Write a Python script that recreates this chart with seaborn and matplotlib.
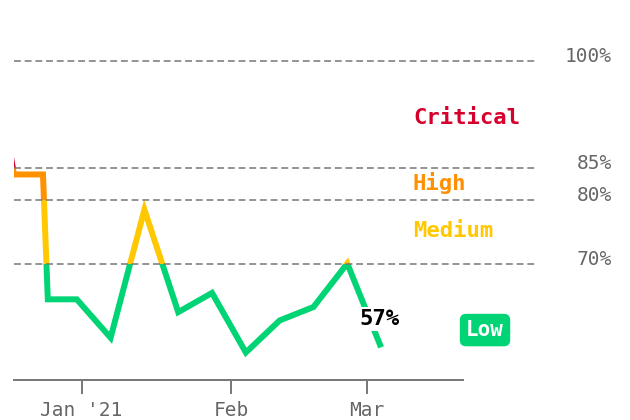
import numpy as np
import pandas as pd
import matplotlib
matplotlib.use("Agg")
import matplotlib.pyplot as plt
import matplotlib.dates as mdates
from matplotlib.patches import Rectangle
from matplotlib.transforms import blended_transform_factory, ScaledTranslation
import seaborn as sns

# weekly score readings (%)
dates = ["2020-12-17", "2020-12-18", "2020-12-24", "2020-12-25", "2020-12-31",
         "2021-01-07", "2021-01-14", "2021-01-21", "2021-01-28", "2021-02-04",
         "2021-02-11", "2021-02-18", "2021-02-25", "2021-03-04"]
values = [88, 84, 84, 64.5, 64.5, 58.5, 78.5, 62.5, 65.5, 56.2, 61.2, 63.3, 70.1, 57]

thresholds = [100, 85, 80, 70]
threshold_labels = ["100%", "85%", "80%", "70%"]

zones = ["Critical", "High", "Medium", "Low"]
zone_bounds = [(85, 200), (80, 85), (70, 80), (0, 70)]
zone_label_y = [92.0, 82.7, 75.2, 59.7]
zone_colors = ["#d6002c", "#ff9000", "#ffc800", "#00d474"]

last_label = "57%"

sns.set_style("white")
plt.rcParams["font.family"] = ["DejaVu Sans Mono", "DejaVu Sans"]

df = pd.DataFrame({"date": pd.to_datetime(dates), "value": values})


def fwd(v):
    v = np.asarray(v, dtype=float)
    return np.where(v <= 85, v, 85 + (v - 85) * 107 / 96)


def inv(t):
    t = np.asarray(t, dtype=float)
    return np.where(t <= 85, t, 85 + (t - 85) * 96 / 107)


fig = plt.figure(figsize=(6.3, 4.2), dpi=100)
ax = fig.add_axes([14 / 630, 40 / 420, 523 / 630, 380 / 420])
ax.set_yscale("function", functions=(fwd, inv))

x0 = mdates.date2num(pd.Timestamp("2020-12-18"))
x1 = x0 + 523 / 4.83
ax.set_xlim(x0, x1)
ax.set_ylim(51.9, 108.55)

# one copy of the line per risk band, each clipped to its band
for (lo, hi), col in zip(zone_bounds, zone_colors):
    sns.lineplot(data=df, x="date", y="value", ax=ax, color=col, linewidth=4.3,
                 solid_joinstyle="miter", solid_capstyle="butt", zorder=3)
    line = ax.lines[-1]
    clip = Rectangle((x0, lo), x1 - x0, hi - lo, transform=ax.transData)
    line.set_clip_path(clip)

for t in thresholds:
    ax.axhline(t, color="#777777", linewidth=1.1, linestyle=(0, (4.5, 2.5)), zorder=4)

trans = blended_transform_factory(fig.transFigure, ax.transData) + \
    ScaledTranslation(0, 3 / 72, fig.dpi_scale_trans)
for t, lab in zip(thresholds, threshold_labels):
    ax.text(612 / 630, t, lab, transform=trans, ha="right", va="center",
            fontsize=14, color="#666666")

label_x = x0 + (413 - 14) / 4.83
for name, y, col in zip(zones[:3], zone_label_y[:3], zone_colors[:3]):
    ax.text(label_x, y, name, color=col, fontsize=16, fontweight="bold",
            ha="left", va="center")

ax.text(x0 + (485 - 14) / 4.83, zone_label_y[3], zones[3], color="white",
        fontsize=15, fontweight="bold", ha="center", va="center",
        bbox=dict(boxstyle="round,pad=0.3,rounding_size=0.3",
                  fc=zone_colors[3], ec="none"))

ax.text(mdates.date2num(df["date"].iloc[-1]) - 0.3, 61.4, last_label, color="black",
        fontsize=16, fontweight="bold", ha="center", va="center", zorder=5,
        bbox=dict(boxstyle="square,pad=0.1", fc="white", ec="none"))

for side in ["top", "right", "left"]:
    ax.spines[side].set_visible(False)
ax.spines["bottom"].set_color("#777777")
ax.spines["bottom"].set_linewidth(1.4)
ax.spines["bottom"].set_bounds(x0, x0 + 93)

ax.set_xticks([mdates.date2num(pd.Timestamp(d)) for d in ["2021-01-01", "2021-02-01", "2021-03-01"]])
ax.set_xticklabels(["Jan '21", "Feb", "Mar"])
ax.set_yticks([])
ax.tick_params(axis="x", bottom=True, length=10, width=1.4, color="#777777",
               labelcolor="#666666", labelsize=14, pad=5)
ax.set_xlabel("")
ax.set_ylabel("")

fig.savefig("out.png", dpi=100)
